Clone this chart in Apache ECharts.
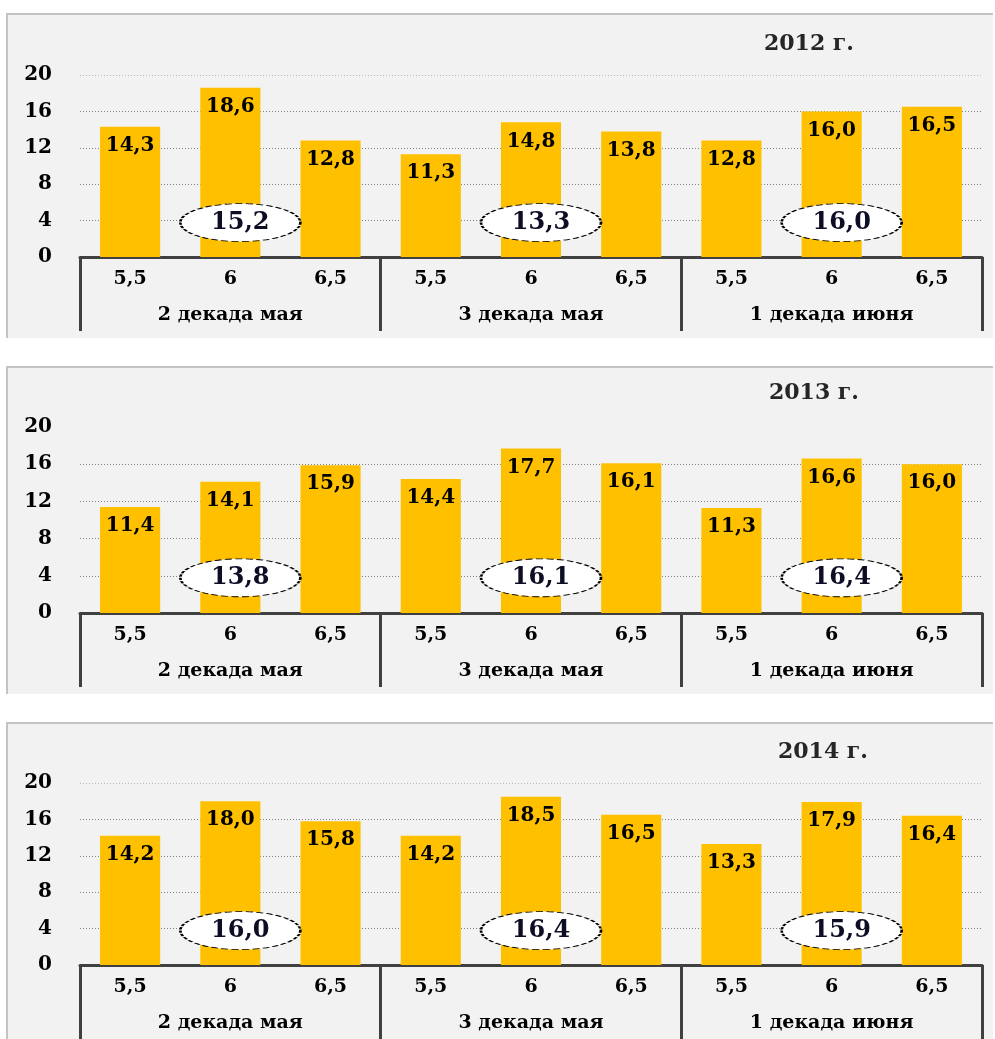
<!DOCTYPE html>
<html>
<head>
<meta charset="utf-8">
<script src="https://cdn.jsdelivr.net/npm/echarts@6/dist/echarts.min.js"></script>
<style>
html,body{margin:0;padding:0;background:#fff;}
#c{width:995px;height:1039px;}
</style>
</head>
<body>
<div id="c"></div>
<script>
// ---- data ----
const categories = ['5,5', '6', '6,5', '5,5', '6', '6,5', '5,5', '6', '6,5'];
const groups = ['2 декада мая', '3 декада мая', '1 декада июня'];
const yTicks = [0, 4, 8, 12, 16, 20];
const titles = ['2012 г.', '2013 г.', '2014 г.'];
const values2012 = [14.3, 18.6, 12.8, 11.3, 14.8, 13.8, 12.8, 16.0, 16.5];
const values2013 = [11.4, 14.1, 15.9, 14.4, 17.7, 16.1, 11.3, 16.6, 16.0];
const values2014 = [14.2, 18.0, 15.8, 14.2, 18.5, 16.5, 13.3, 17.9, 16.4];
const means2012 = [15.2, 13.3, 16.0];
const means2013 = [13.8, 16.1, 16.4];
const means2014 = [16.0, 16.4, 15.9];

// ---- layout ----
const panels = [
  {values: values2012, means: means2012, title: titles[0], bg: [7, 14, 986, 324], gridTop: 75, gridH: 182, titleX: 809, titleY: 44, c20: '#b8b8b8'},
  {values: values2013, means: means2013, title: titles[1], bg: [7, 367, 986, 327], gridTop: 427, gridH: 186, titleX: 814, titleY: 393, c20: 'rgba(0,0,0,0)'},
  {values: values2014, means: means2014, title: titles[2], bg: [7, 723, 986, 330], gridTop: 783, gridH: 182, titleX: 823, titleY: 752, c20: '#b8b8b8'}
];
const FONT = 'DejaVu Serif';
const ELLIPSE_Y = 4;
const fmt = v => v.toFixed(1).replace('.', ',');

const grid = [], xAxis = [], yAxis = [], series = [], graphic = [];
panels.forEach((p, i) => {
  const [bx, by, bw, bh] = p.bg;
  graphic.push({type: 'rect', z: -10, silent: true, shape: {x: bx, y: by, width: bw, height: bh}, style: {fill: '#f2f2f2'}});
  graphic.push({type: 'polyline', z: -9, silent: true, shape: {points: [[bx, by + bh], [bx, by], [bx + bw, by]]}, style: {stroke: '#c3c3c3', lineWidth: 2, fill: null}});
  graphic.push({type: 'text', silent: true, x: p.titleX, y: p.titleY, style: {text: p.title, font: 'bold 22px "DejaVu Serif"', fill: '#262626', align: 'center', verticalAlign: 'middle'}});

  grid.push({left: 80, right: 13, top: p.gridTop, height: p.gridH});
  xAxis.push({
    type: 'category', gridIndex: i, data: categories, position: 'bottom',
    axisLine: {show: true, lineStyle: {color: '#404040', width: 3}},
    axisTick: {show: false},
    axisLabel: {margin: 13, fontFamily: FONT, fontWeight: 'bold', fontSize: 19, color: '#000'}
  });
  xAxis.push({
    type: 'category', gridIndex: i, data: groups, position: 'bottom',
    axisLine: {show: false},
    axisTick: {show: true, length: i === 2 ? 80 : 74, lineStyle: {color: '#404040', width: 3}},
    axisLabel: {margin: 49, fontFamily: FONT, fontWeight: 'bold', fontSize: 19, color: '#000'}
  });
  yAxis.push({
    type: 'value', gridIndex: i, min: yTicks[0], max: yTicks[yTicks.length - 1], interval: yTicks[1] - yTicks[0],
    axisLine: {show: false}, axisTick: {show: false},
    axisLabel: {margin: 28, fontFamily: FONT, fontWeight: 'bold', fontSize: 20, color: '#000'},
    splitLine: {show: true, lineStyle: {color: ['rgba(0,0,0,0)', '#808080', '#808080', '#808080', '#808080', p.c20], type: [1, 2], width: 1}}
  });
  series.push({
    type: 'bar', xAxisIndex: i * 2, yAxisIndex: i, data: p.values, barWidth: '60%',
    itemStyle: {color: '#FFC000'},
    label: {show: true, position: 'insideTop', distance: 9, formatter: q => fmt(q.value), fontFamily: FONT, fontWeight: 'bold', fontSize: 20, color: '#000'},
    z: 2
  });
  series.push({
    type: 'scatter', xAxisIndex: i * 2, yAxisIndex: i,
    data: p.means.map((m, g) => ({value: [g * 3 + 1, ELLIPSE_Y], mean: m})),
    symbol: 'circle', symbolSize: [120, 38], symbolOffset: [10, 2],
    itemStyle: {color: '#fff', opacity: 1, borderColor: '#000', borderWidth: 1.5, borderType: [4, 2]},
    label: {show: true, position: 'inside', formatter: q => fmt(q.data.mean), fontFamily: FONT, fontWeight: 'bold', fontSize: 24, color: '#0d0d26', opacity: 1},
    emphasis: {disabled: true},
    z: 5, silent: true
  });
});

const chart = echarts.init(document.getElementById('c'), null, {renderer: 'canvas'});
chart.setOption({animation: false, backgroundColor: '#fff', grid, xAxis, yAxis, series, graphic});
</script>
</body>
</html>
